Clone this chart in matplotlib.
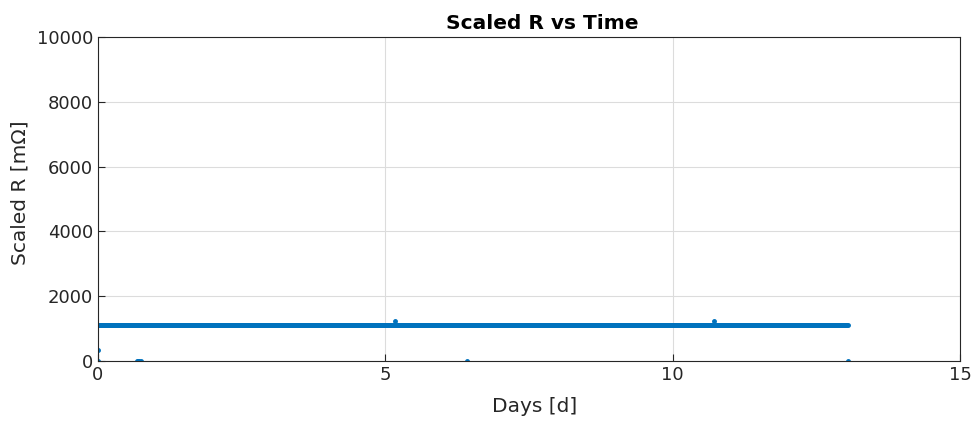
import matplotlib
matplotlib.use('Agg')
import matplotlib.pyplot as plt

# main trace: flat scaled R over the run
line_days = [0.0, 13.05]
line_r = [1110, 1110]

# isolated samples
pt_days = [0.0, 0.0, 0.68, 0.70, 0.72, 0.74, 5.17, 6.42, 10.72, 13.05]
pt_r = [340, 0, 0, 0, 0, 0, 1235, 0, 1235, 0]

blue = '#0072BD'
dark = '#262626'

plt.rcParams['font.family'] = 'DejaVu Sans'
fig = plt.figure(figsize=(9.76, 4.21), dpi=100)
ax = fig.add_axes([0.1004, 0.1425, 0.8832, 0.7696])

ax.plot(line_days, line_r, color=blue, linewidth=3.6, solid_capstyle='round')
ax.plot(pt_days, pt_r, '.', color=blue, markersize=5, linestyle='none')

ax.set_xlim(0, 15)
ax.set_ylim(0, 10000)
ax.set_xticks([0, 5, 10, 15])
ax.set_yticks([0, 2000, 4000, 6000, 8000, 10000])
ax.grid(True, color='#dcdcdc', linewidth=0.8)
ax.set_axisbelow(True)
ax.tick_params(direction='in', length=5, labelsize=13, colors=dark, width=0.8)
ax.tick_params(top=False, right=False)
for s in ax.spines.values():
    s.set_color(dark)
    s.set_linewidth(0.8)

ax.set_xlabel('Days [d]', fontsize=14.5, color=dark)
ax.xaxis.set_label_coords(0.506, -0.11)
ax.set_ylabel('Scaled R [mΩ]', fontsize=14.5, color=dark)
ax.yaxis.set_label_coords(-0.079, 0.52)
ax.set_title('Scaled R vs Time', fontsize=14.5, fontweight='bold', color='black',
             x=0.515, pad=6)

fig.savefig('out.png', dpi=100)
